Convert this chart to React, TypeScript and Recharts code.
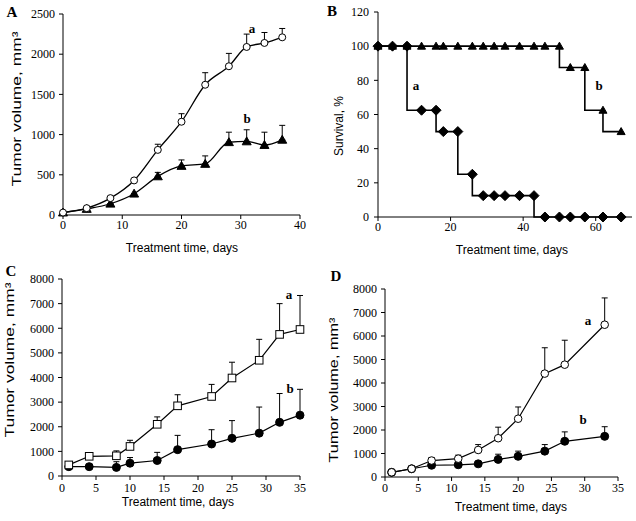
import React from 'react'
import { LineChart, Line, XAxis, YAxis, ErrorBar, Label } from 'recharts'

const serif = '"Liberation Serif", "Times New Roman", serif'
const sans = '"Liberation Sans", Arial, sans-serif'

// A: tumor volume, smoothed
const daysA = [0, 4, 8, 12, 16, 20, 24, 28, 31, 34, 37]
const volA1 = [30, 85, 210, 430, 810, 1160, 1620, 1850, 2090, 2140, 2210]
const errA1 = [0, 0, 0, 0, 70, 100, 150, 160, 160, 130, 110]
const volA2 = [30, 75, 140, 265, 480, 610, 635, 905, 915, 870, 935]
const errA2 = [0, 0, 0, 0, 50, 75, 100, 125, 145, 160, 180]

// B: survival, steps
const daysB = [0, 4, 8, 12, 16, 18, 22, 26, 29, 32, 35, 39, 43, 46, 50, 53, 57, 62, 67]
const survB1 = [100, 100, 100, 62.5, 62.5, 50, 50, 25, 12.5, 12.5, 12.5, 12.5, 12.5, 0, 0, 0, 0, 0, 0]
const survB2 = [100, 100, 100, 100, 100, 100, 100, 100, 100, 100, 100, 100, 100, 100, 100, 87.5, 87.5, 62.5, 50]

// C
const daysC = [1, 4, 8, 10, 14, 17, 22, 25, 29, 32, 35]
const volC1 = [450, 800, 820, 1200, 2100, 2850, 3230, 3980, 4700, 5750, 5950]
const errC1 = [0, 100, 200, 250, 300, 450, 490, 640, 850, 1250, 1380]
const volC2 = [380, 380, 350, 520, 630, 1070, 1300, 1530, 1740, 2180, 2470]
const errC2 = [0, 0, 230, 230, 330, 580, 580, 720, 1060, 1170, 1050]

// D
const daysD = [1, 4, 7, 11, 14, 17, 20, 24, 27, 33]
const volD1 = [200, 350, 700, 780, 1150, 1650, 2480, 4400, 4780, 6480]
const errD1 = [0, 0, 130, 150, 230, 470, 500, 1100, 1040, 1140]
const volD2 = [200, 350, 500, 520, 560, 750, 880, 1100, 1520, 1730]
const errD2 = [0, 0, 0, 0, 0, 220, 220, 280, 400, 410]

const ticksA = [0, 500, 1000, 1500, 2000, 2500]
const ticksB = [0, 20, 40, 60, 80, 100, 120]
const ticksVol = [0, 1000, 2000, 3000, 4000, 5000, 6000, 7000, 8000]
const xTicksA = [0, 10, 20, 30, 40]
const xTicksB = [0, 20, 40, 60]
const xTicksCD = [0, 5, 10, 15, 20, 25, 30, 35]

const withErr = (days: number[], a: number[], ea: number[] | null, b: number[], eb: number[] | null) =>
  days.map((d, i) => ({
    day: d,
    a: a[i],
    b: b[i],
    aErr: ea ? [0, ea[i]] : undefined,
    bErr: eb ? [0, eb[i]] : undefined,
  }))

const dataA = withErr(daysA, volA1, errA1, volA2, errA2)
const dataB = withErr(daysB, survB1, null, survB2, null)
const dataC = withErr(daysC, volC1, errC1, volC2, errC2)
const dataD = withErr(daysD, volD1, errD1, volD2, errD2)

type Kind = 'circle' | 'triangle' | 'diamond' | 'square'

const makeDot = (kind: Kind, filled: boolean, s: number) => (props: any) => {
  const { cx, cy, index } = props
  if (cx == null || cy == null) return <g key={index} />
  const fill = filled ? '#000' : '#fff'
  if (kind === 'circle') return <circle key={index} cx={cx} cy={cy} r={s} fill={fill} stroke="#000" strokeWidth={1} />
  if (kind === 'square')
    return <rect key={index} x={cx - s} y={cy - s} width={s * 2} height={s * 2} fill={fill} stroke="#000" strokeWidth={1} />
  if (kind === 'diamond')
    return (
      <polygon key={index} points={`${cx},${cy - s} ${cx + s},${cy} ${cx},${cy + s} ${cx - s},${cy}`} fill={fill} stroke="#000" strokeWidth={1} />
    )
  return (
    <polygon key={index} points={`${cx},${cy - s} ${cx + s},${cy + s * 0.75} ${cx - s},${cy + s * 0.75}`} fill={fill} stroke="#000" strokeWidth={1} />
  )
}

const tickStyle = { fontFamily: serif, fontSize: 12, fill: '#000' }
const axisStroke = { stroke: '#000' }

const xTitle = (x: number, y: number) => () => (
  <text x={x} y={y} textAnchor="middle" fontFamily={sans} fontSize={12} fill="#000">
    Treatment time, days
  </text>
)

const yTitle = (x: number, y: number, text: string, len: number) => () => (
  <text
    transform={`translate(${x},${y}) rotate(-90)`}
    textAnchor="middle"
    dominantBaseline="central"
    fontFamily={sans}
    fontSize={12}
    fill="#000"
    textLength={len}
    lengthAdjust="spacingAndGlyphs"
  >
    {text}
  </text>
)

const tag = (text: string, left: number, top: number, size = 14) => (
  <span
    style={{
      position: 'absolute',
      left,
      top,
      transform: 'translate(-50%, -50%)',
      fontFamily: serif,
      fontWeight: 'bold',
      fontSize: size,
      color: '#000',
      lineHeight: 1,
    }}
  >
    {text}
  </span>
)

export default function App() {
  return (
    <div style={{ position: 'absolute', left: 0, top: 0, width: 636, height: 521, background: '#fff', overflow: 'hidden' }}>
      {/* A */}
      <div style={{ position: 'absolute', left: 0, top: 0 }}>
        <LineChart width={316} height={262} data={dataA} margin={{ top: 14, right: 16, left: 0, bottom: 0 }}>
          <XAxis dataKey="day" type="number" domain={[0, 40]} ticks={xTicksA} interval={0} height={47}
            tick={tickStyle} axisLine={axisStroke} tickLine={axisStroke} tickSize={4} tickMargin={1}>
            <Label content={xTitle(182, 252)} />
          </XAxis>
          <YAxis type="number" domain={[0, 2500]} ticks={ticksA} interval={0} width={63}
            tick={tickStyle} axisLine={axisStroke} tickLine={axisStroke} tickSize={4} tickMargin={4}>
            <Label content={yTitle(17, 109, 'Tumor volume, mm³', 155)} />
          </YAxis>
          <Line dataKey="b" type="monotone" stroke="#000" strokeWidth={1.3} dot={makeDot('triangle', true, 4.5)} isAnimationActive={false}>
            <ErrorBar dataKey="bErr" direction="y" width={3} stroke="#000" strokeWidth={1} />
          </Line>
          <Line dataKey="a" type="monotone" stroke="#000" strokeWidth={1.3} dot={makeDot('circle', false, 3.5)} isAnimationActive={false}>
            <ErrorBar dataKey="aErr" direction="y" width={3} stroke="#000" strokeWidth={1} />
          </Line>
        </LineChart>
      </div>

      {/* B */}
      <div style={{ position: 'absolute', left: 316, top: 0 }}>
        <LineChart width={320} height={262} data={dataB} margin={{ top: 12, right: 4, left: 0, bottom: 0 }}>
          <XAxis dataKey="day" type="number" domain={[0, 70]} ticks={xTicksB} interval={0} height={45}
            tick={tickStyle} axisLine={axisStroke} tickLine={axisStroke} tickSize={4} tickMargin={1}>
            <Label content={xTitle(196, 254)} />
          </XAxis>
          <YAxis type="number" domain={[0, 120]} ticks={ticksB} interval={0} width={62}
            tick={tickStyle} axisLine={axisStroke} tickLine={axisStroke} tickSize={4} tickMargin={5}>
            <Label content={yTitle(23, 126, 'Survival, %', 60)} />
          </YAxis>
          <Line dataKey="b" type="stepBefore" stroke="#000" strokeWidth={1.6} dot={makeDot('triangle', true, 4)} isAnimationActive={false} />
          <Line dataKey="a" type="stepBefore" stroke="#000" strokeWidth={1.6} dot={makeDot('diamond', true, 5)} isAnimationActive={false} />
        </LineChart>
      </div>

      {/* C */}
      <div style={{ position: 'absolute', left: 0, top: 250 }}>
        <LineChart width={316} height={271} data={dataC} margin={{ top: 29, right: 16, left: 0, bottom: 0 }}>
          <XAxis dataKey="day" type="number" domain={[0, 35]} ticks={xTicksCD} interval={0} height={45}
            tick={tickStyle} axisLine={axisStroke} tickLine={axisStroke} tickSize={4} tickMargin={3}>
            <Label content={xTitle(178, 256)} />
          </XAxis>
          <YAxis type="number" domain={[0, 8000]} ticks={ticksVol} interval={0} width={62}
            tick={tickStyle} axisLine={axisStroke} tickLine={axisStroke} tickSize={4} tickMargin={4}>
            <Label content={yTitle(10, 110, 'Tumor volume, mm³', 155)} />
          </YAxis>
          <Line dataKey="b" type="linear" stroke="#000" strokeWidth={1.2} dot={makeDot('circle', true, 4)} isAnimationActive={false}>
            <ErrorBar dataKey="bErr" direction="y" width={3} stroke="#000" strokeWidth={1} />
          </Line>
          <Line dataKey="a" type="linear" stroke="#000" strokeWidth={1.2} dot={makeDot('square', false, 3.8)} isAnimationActive={false}>
            <ErrorBar dataKey="aErr" direction="y" width={3} stroke="#000" strokeWidth={1} />
          </Line>
        </LineChart>
      </div>

      {/* D */}
      <div style={{ position: 'absolute', left: 316, top: 250 }}>
        <LineChart width={320} height={271} data={dataD} margin={{ top: 39, right: 18, left: 0, bottom: 0 }}>
          <XAxis dataKey="day" type="number" domain={[0, 35]} ticks={xTicksCD} interval={0} height={44}
            tick={tickStyle} axisLine={axisStroke} tickLine={axisStroke} tickSize={4} tickMargin={2}>
            <Label content={xTitle(195, 261)} />
          </XAxis>
          <YAxis type="number" domain={[0, 8000]} ticks={ticksVol} interval={0} width={69}
            tick={tickStyle} axisLine={axisStroke} tickLine={axisStroke} tickSize={4} tickMargin={4}>
            <Label content={yTitle(18, 140, 'Tumor volume, mm³', 145)} />
          </YAxis>
          <Line dataKey="b" type="linear" stroke="#000" strokeWidth={1.2} dot={makeDot('circle', true, 4)} isAnimationActive={false}>
            <ErrorBar dataKey="bErr" direction="y" width={3} stroke="#000" strokeWidth={1} />
          </Line>
          <Line dataKey="a" type="linear" stroke="#000" strokeWidth={1.2} dot={makeDot('circle', false, 3.8)} isAnimationActive={false}>
            <ErrorBar dataKey="aErr" direction="y" width={3} stroke="#000" strokeWidth={1} />
          </Line>
        </LineChart>
      </div>

      {tag('A', 12, 12, 15)}
      {tag('B', 332, 11, 15)}
      {tag('C', 11, 271, 15)}
      {tag('D', 336, 276, 15)}

      {tag('a', 252, 28, 13)}
      {tag('b', 247, 118, 13)}
      {tag('a', 416, 85, 13)}
      {tag('b', 599, 85, 13)}
      {tag('a', 289, 294, 13)}
      {tag('b', 290, 388, 13)}
      {tag('a', 588, 320, 13)}
      {tag('b', 583, 419, 13)}
    </div>
  )
}
